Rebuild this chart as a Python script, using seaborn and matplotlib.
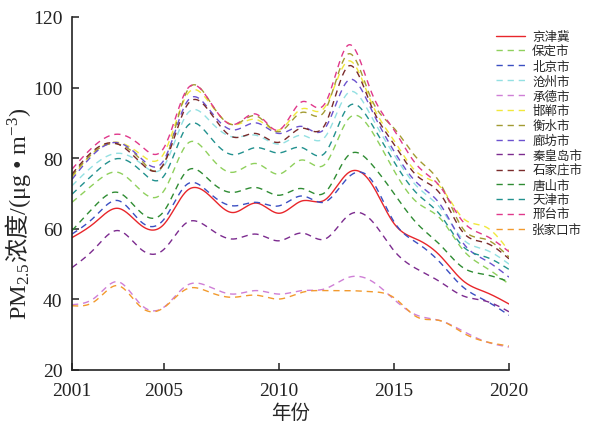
import numpy as np
import pandas as pd
import matplotlib
matplotlib.use("Agg")
import matplotlib.pyplot as plt
import seaborn as sns

# 年均 PM2.5 浓度 (μg/m³), 2001-2020
years = list(range(2001, 2021))

jingjinji = [57.5, 61.8, 65.8, 61.0, 61.3, 70.8, 69.3, 64.6, 67.3, 64.4,
             67.9, 68.2, 75.8, 73.0, 61.5, 57.0, 52.4, 45.3, 42.0, 38.7]
baoding = [67.5, 73.0, 76.0, 70.8, 70.8, 84.0, 80.5, 76.0, 78.5, 75.5,
           79.5, 78.3, 91.0, 88.0, 76.5, 67.5, 63.0, 54.0, 49.0, 44.3]
beijing = [58.5, 63.5, 68.0, 62.0, 62.7, 72.6, 70.0, 66.5, 67.5, 66.5,
           69.3, 67.6, 74.5, 74.0, 62.0, 56.0, 50.5, 43.5, 39.6, 35.5]
cangzhou = [72.2, 78.3, 81.4, 78.5, 77.8, 92.5, 90.5, 86.0, 86.5, 84.0,
            86.5, 86.0, 98.5, 92.0, 81.0, 72.0, 66.0, 57.0, 54.0, 50.0]
chengde = [38.5, 40.5, 45.0, 38.5, 37.8, 44.0, 43.5, 41.5, 42.5, 41.5,
           42.5, 43.0, 46.2, 45.3, 40.0, 35.5, 34.0, 31.0, 28.0, 26.5]
handan = [74.5, 82.0, 84.5, 81.0, 81.4, 98.0, 95.5, 89.5, 91.0, 88.0,
          94.0, 94.5, 107.5, 96.0, 85.0, 76.0, 72.0, 63.0, 60.5, 53.7]
hengshui = [75.0, 82.0, 84.0, 79.5, 78.5, 99.0, 96.0, 89.5, 92.0, 87.5,
            93.0, 93.5, 109.5, 97.0, 88.5, 80.0, 73.0, 60.0, 57.0, 52.0]
langfang = [74.0, 81.5, 84.4, 80.0, 79.5, 96.0, 93.5, 88.0, 90.0, 87.0,
            89.0, 88.5, 102.0, 94.0, 82.0, 73.0, 67.0, 56.0, 51.0, 46.3]
qinhuangdao = [49.0, 54.5, 59.5, 54.2, 54.2, 61.8, 60.0, 57.1, 58.5, 56.6,
               58.8, 57.1, 63.7, 62.5, 53.8, 48.6, 45.0, 41.0, 39.5, 36.5]
shijiazhuang = [75.5, 82.5, 84.0, 78.6, 78.5, 95.0, 93.0, 86.0, 87.0, 84.5,
                88.5, 89.5, 106.0, 95.0, 84.0, 75.0, 70.0, 59.0, 56.0, 51.5]
tangshan = [59.5, 66.5, 70.3, 64.6, 65.0, 76.4, 73.6, 70.3, 71.7, 69.5,
            71.4, 70.3, 80.7, 78.5, 70.0, 61.5, 55.5, 49.0, 47.0, 45.0]
tianjin = [69.8, 75.9, 79.9, 76.4, 75.0, 89.0, 86.0, 81.0, 83.0, 81.5,
           83.0, 81.5, 94.5, 90.0, 79.0, 70.0, 64.0, 55.0, 52.0, 48.5]
xingtai = [76.9, 83.7, 86.8, 83.5, 83.0, 99.5, 96.0, 89.5, 92.5, 88.0,
           96.0, 95.5, 112.0, 99.0, 88.0, 78.0, 72.0, 62.0, 58.0, 53.5]
zhangjiakou = [38.2, 39.5, 43.9, 37.8, 37.7, 43.0, 42.0, 40.6, 41.2, 40.1,
               42.0, 42.5, 42.5, 42.2, 40.5, 35.0, 34.0, 30.5, 28.0, 26.8]

series_names = ["京津冀", "保定市", "北京市", "沧州市", "承德市", "邯郸市", "衡水市",
                "廊坊市", "秦皇岛市", "石家庄市", "唐山市", "天津市", "邢台市", "张家口市"]
series_values = [jingjinji, baoding, beijing, cangzhou, chengde, handan, hengshui,
                 langfang, qinhuangdao, shijiazhuang, tangshan, tianjin, xingtai, zhangjiakou]
series_colors = ["#e8262b", "#8fd05c", "#3b4fc2", "#93e0e2", "#cf7fd6", "#f0e83c", "#a39b32",
                 "#6b52cf", "#7c2b8f", "#7a2b2b", "#2f8c33", "#22918e", "#e0388b", "#f29a2e"]
x_ticks = [2001, 2005, 2010, 2015, 2020]
y_ticks = [20, 40, 60, 80, 100, 120]


def natural_spline(x, y, xs):
    """Natural cubic spline through (x, y), evaluated at xs."""
    x = np.asarray(x, float)
    y = np.asarray(y, float)
    n = len(x)
    h = np.diff(x)
    A = np.zeros((n, n))
    b = np.zeros(n)
    A[0, 0] = A[-1, -1] = 1.0
    for i in range(1, n - 1):
        A[i, i - 1] = h[i - 1]
        A[i, i] = 2 * (h[i - 1] + h[i])
        A[i, i + 1] = h[i]
        b[i] = 3 * ((y[i + 1] - y[i]) / h[i] - (y[i] - y[i - 1]) / h[i - 1])
    c = np.linalg.solve(A, b)
    bb = (y[1:] - y[:-1]) / h - h * (2 * c[:-1] + c[1:]) / 3
    d = (c[1:] - c[:-1]) / (3 * h)
    idx = np.clip(np.searchsorted(x, xs) - 1, 0, n - 2)
    t = xs - x[idx]
    return y[idx] + bb[idx] * t + c[idx] * t ** 2 + d[idx] * t ** 3


sns.set_style("ticks")
plt.rcParams["font.family"] = ["Liberation Serif", "Noto Sans CJK SC"]
plt.rcParams["mathtext.fontset"] = "custom"
plt.rcParams["mathtext.rm"] = "Liberation Serif"
plt.rcParams["mathtext.it"] = "Liberation Serif:italic"
plt.rcParams["mathtext.bf"] = "Liberation Serif:bold"
plt.rcParams["mathtext.sf"] = "Noto Sans CJK SC"
plt.rcParams["mathtext.default"] = "rm"

fig = plt.figure(figsize=(5.95, 4.31), dpi=100)
ax = fig.add_axes([72 / 595, 60 / 431, 437 / 595, 353 / 431])

xs = np.linspace(years[0], years[-1], 600)
for name, vals, col in zip(series_names, series_values, series_colors):
    ys = natural_spline(years, vals, xs)
    style = "-" if name == "京津冀" else (0, (4.5, 3.5))
    sns.lineplot(x=xs, y=ys, ax=ax, color=col, linestyle=style,
                 linewidth=1.0, label=name)

ax.set_xlim(2001, 2020)
ax.set_ylim(20, 120)
ax.set_xticks(x_ticks)
ax.set_yticks(y_ticks)
sns.despine(ax=ax)
for side in ("left", "bottom"):
    ax.spines[side].set_linewidth(1.2)
    ax.spines[side].set_color("#222222")
ax.tick_params(direction="in", length=5, width=1.1, labelsize=14,
               colors="#222222")
ax.tick_params(axis="y", pad=7)
ax.tick_params(axis="x", pad=9)

ax.set_xlabel("年份", fontsize=14, labelpad=3)
ax.set_ylabel(r"PM$_{2.5}\mathsf{浓度}$/(μg$\ •\ $m$^{-3}$)", fontsize=17.5)
ax.yaxis.set_label_coords(-0.09, 0.445)

if ax.get_legend() is not None:
    ax.get_legend().remove()
handles, labels = ax.get_legend_handles_labels()
fig.legend(handles, labels, loc="upper left",
           bbox_to_anchor=(496 / 595, 1 - 32 / 431), frameon=False,
           fontsize=9, handlelength=2.3, handletextpad=0.6,
           labelspacing=0.22, borderaxespad=0, borderpad=0)

fig.savefig("out.png", dpi=100)
